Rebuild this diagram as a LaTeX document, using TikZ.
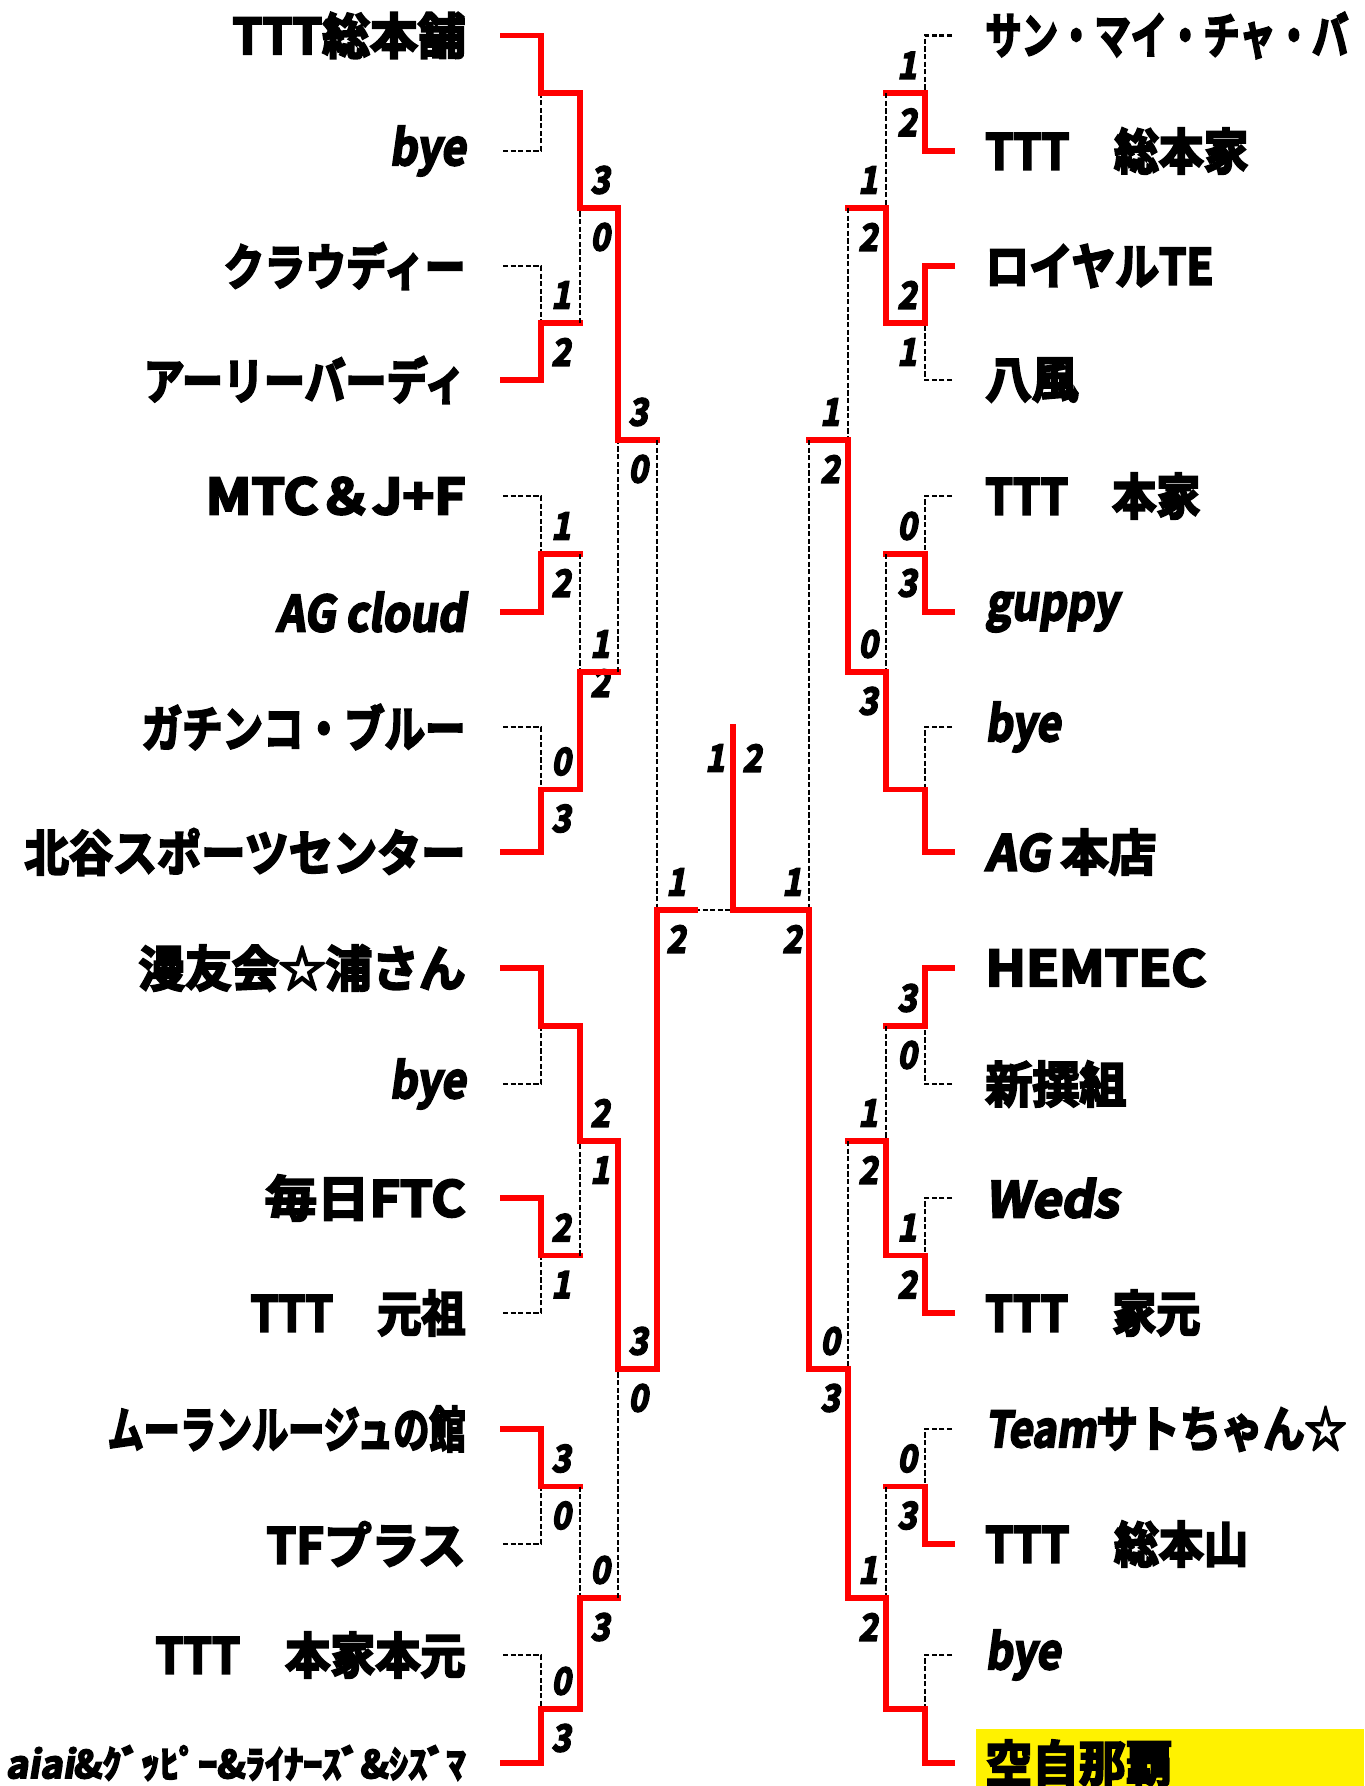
\documentclass[tikz,border=0pt]{standalone}
\usepackage{fontspec}
\usepackage{graphicx}
\newfontfamily\jpfont{Noto Sans CJK JP Bold}[FakeBold=4.5]
\newfontfamily\jpit{Noto Sans CJK JP Bold}[FakeSlant=0.16,FakeBold=4.5]
\newfontfamily\jpslfont{Noto Sans CJK JP Bold}[FakeSlant=0.2,FakeBold=5]
\newsavebox\fitbox
\newdimen\fitlen
\newcommand\fitw[2]{\sbox\fitbox{#2}\fitlen=\wd\fitbox\pgfmathsetmacro\fitf{#1*0.5/\fitlen}\scalebox{\fitf}[1]{\usebox\fitbox}}
% one match: #1 id, #2 x of entry, #3 x of vertical, #4 x out, #5 y winner, #6 y loser, #7 y mid
\newcommand\bout[7]{%
  \coordinate (#1w) at (#2,#5);
  \coordinate (#1l) at (#2,#6);
  \coordinate (#1m) at (#3,#7);
  \coordinate (#1o) at (#4,#7);
  \draw[lose] (#1l) -| (#1m);
  \draw[win] (#1w) -| (#1m) -- (#1o);
}
% scores: #1 id, #2 x, #3 y mid, #4 upper, #5 lower
\newcommand\scores[5]{%
  \node[score] (#1t) at (#2,#3-28) {\scalebox{0.88}[1]{#4}};
  \node[score] (#1b) at (#2,#3+29) {\scalebox{0.88}[1]{#5}};
}
\begin{document}
\begin{tikzpicture}[x=0.5pt,y=-0.5pt,
  win/.style={draw=red, line width=2.85pt, line join=miter, line cap=rect},
  lose/.style={draw=black, line width=1.4pt, dash pattern=on 2.6pt off 1.2pt},
  nameL/.style={anchor=east, inner sep=0pt, font=\jpfont\fontsize{24.5pt}{28pt}\selectfont},
  nameR/.style={anchor=west, inner sep=0pt, font=\jpfont\fontsize{24.5pt}{28pt}\selectfont},
  score/.style={inner sep=0pt, font=\jpslfont\fontsize{18.5pt}{20pt}\selectfont}]
\useasboundingbox (0,0) rectangle (1364,1786);
\fill[yellow] (976,1729) rectangle (1364,1786);
% ---- left names
\node[nameL] (L1) at (466,35.5) {\fitw{233}{TTT総本舗}};
\node[nameL] (L2) at (466,151) {\fitw{76}{\jpit bye}};
\node[nameL] (L3) at (466,266) {\fitw{242}{クラウディー}};
\node[nameL] (L4) at (466,380) {\fitw{322}{アーリーバーディ}};
\node[nameL] (L5) at (466,496) {\fitw{260}{MTC＆J+F}};
\node[nameL] (L6) at (466,612) {\fitw{189}{\jpit AG cloud}};
\node[nameL] (L7) at (466,727) {\fitw{324}{ガチンコ・ブルー}};
\node[nameL] (L8) at (466,852) {\fitw{441}{北谷スポーツセンター}};
\node[nameL] (L9) at (466,968) {\fitw{327}{漫友会☆浦さん}};
\node[nameL] (L10) at (466,1084) {\fitw{76}{\jpit bye}};
\node[nameL] (L11) at (466,1198) {\fitw{201}{毎日FTC}};
\node[nameL] (L12) at (466,1313) {\fitw{215}{TTT　元祖}};
\node[nameL] (L13) at (466,1429) {\fitw{358}{ムーランルージュの館}};
\node[nameL] (L14) at (466,1544) {\fitw{199}{TFプラス}};
\node[nameL] (L15) at (466,1655) {\fitw{310}{TTT　本家本元}};
\node[nameL, font=\jpfont\fontsize{19pt}{22pt}\selectfont] (L16) at (466,1763) {\fitw{460}{{\jpit aiai}\&ｸﾞｯﾋﾟｰ\&ﾗｲﾅｰｽﾞ\&ｼｽﾞﾏ}};
% ---- right names
\node[nameR] (R1) at (985,35.5) {\fitw{363}{サン・マイ・チャ・バ}};
\node[nameR] (R2) at (985,151) {\fitw{263}{TTT　総本家}};
\node[nameR] (R3) at (985,266) {\fitw{228}{ロイヤルTE}};
\node[nameR] (R4) at (985,380) {\fitw{93}{八風}};
\node[nameR] (R5) at (985,496) {\fitw{215}{TTT　本家}};
\node[nameR] (R6) at (985,612) {\fitw{133}{\jpit guppy}};
\node[nameR] (R7) at (985,727) {\fitw{75}{\jpit bye}};
\node[nameR] (R8) at (985,852) {\fitw{171}{{\jpit AG} 本店}};
\node[nameR] (R9) at (985,968) {\fitw{221}{HEMTEC}};
\node[nameR] (R10) at (985,1084) {\fitw{141}{新撰組}};
\node[nameR] (R11) at (985,1198) {\fitw{133}{\jpit Weds}};
\node[nameR] (R12) at (985,1313) {\fitw{215}{TTT　家元}};
\node[nameR] (R13) at (985,1429) {\fitw{361}{{\jpit Team}サトちゃん☆}};
\node[nameR] (R14) at (985,1544) {\fitw{263}{TTT　総本山}};
\node[nameR] (R15) at (985,1655) {\fitw{75}{\jpit bye}};
\node[nameR] (R16) at (985,1763) {\fitw{187}{空自那覇}};
% ---- scores (drawn before the lines)
\scores{sLB}{561}{323}{1}{2}
\scores{sLC}{561}{554}{1}{2}
\scores{sLD}{561}{789.5}{0}{3}
\scores{sLF}{561}{1255.5}{2}{1}
\scores{sLG}{561}{1486.5}{3}{0}
\scores{sLH}{561}{1709}{0}{3}
\scores{sLI}{600}{208}{3}{0}
\node[score] (sLJt) at (600,644) {\scalebox{0.88}[1]{1}};
\node[score] (sLJb) at (600,683) {\scalebox{0.88}[1]{2}};
\scores{sLK}{600}{1141}{2}{1}
\scores{sLL}{600}{1598}{0}{3}
\scores{sLM}{638}{440}{3}{0}
\scores{sLN}{638}{1369}{3}{0}
\scores{sLO}{676}{910}{1}{2}
\scores{sRA}{907}{93.3}{1}{2}
\scores{sRB}{907}{323}{2}{1}
\scores{sRC}{907}{554}{0}{3}
\scores{sRE}{907}{1026}{3}{0}
\scores{sRF}{907}{1255.5}{1}{2}
\scores{sRG}{907}{1486.5}{0}{3}
\scores{sRI}{868}{208}{1}{2}
\scores{sRJ}{868}{672}{0}{3}
\scores{sRK}{868}{1141}{1}{2}
\scores{sRL}{868}{1598}{1}{2}
\scores{sRM}{830}{440}{1}{2}
\scores{sRN}{830}{1369}{0}{3}
\scores{sRO}{792}{910}{1}{2}
\node[score] (fL) at (715,758) {\scalebox{0.88}[1]{1}};
\node[score] (fR) at (752,758) {\scalebox{0.88}[1]{2}};
% ---- left bracket
\bout{LA}{503}{541}{580}{35.5}{151}{93.3}
\bout{LB}{503}{541}{580}{380}{266}{323}
\bout{LC}{503}{541}{580}{612}{496}{554}
\bout{LD}{503}{541}{580}{852}{727}{789.5}
\bout{LE}{503}{541}{580}{968}{1084}{1026}
\bout{LF}{503}{541}{580}{1198}{1313}{1255.5}
\bout{LG}{503}{541}{580}{1429}{1544}{1486.5}
\bout{LH}{503}{541}{580}{1763}{1655}{1709}
\bout{LI}{580}{580}{618}{93.3}{323}{208}
\bout{LJ}{580}{580}{618}{789.5}{554}{672}
\bout{LK}{580}{580}{618}{1026}{1255.5}{1141}
\bout{LL}{580}{580}{618}{1709}{1486.5}{1598}
\bout{LM}{618}{618}{657}{208}{672}{440}
\bout{LN}{618}{618}{657}{1141}{1598}{1369}
\bout{LO}{657}{657}{695}{1369}{440}{910}
% ---- right bracket
\bout{RA}{952}{925}{886}{151}{35.5}{93.3}
\bout{RB}{952}{925}{886}{266}{380}{323}
\bout{RC}{952}{925}{886}{612}{496}{554}
\bout{RD}{952}{925}{886}{852}{727}{789.5}
\bout{RE}{952}{925}{886}{968}{1084}{1026}
\bout{RF}{952}{925}{886}{1313}{1198}{1255.5}
\bout{RG}{952}{925}{886}{1544}{1429}{1486.5}
\bout{RH}{952}{925}{886}{1763}{1655}{1709}
\bout{RI}{886}{886}{848}{323}{93.3}{208}
\bout{RJ}{886}{886}{848}{789.5}{554}{672}
\bout{RK}{886}{886}{848}{1255.5}{1026}{1141}
\bout{RL}{886}{886}{848}{1709}{1486.5}{1598}
\bout{RM}{848}{848}{809}{672}{208}{440}
\bout{RN}{848}{848}{809}{1598}{1141}{1369}
\bout{RO}{809}{809}{733}{1369}{440}{910}
% ---- final
\coordinate (top) at (733,727);
\draw[lose] (LOo) -- (ROo);
\draw[win] (ROm) -- (ROo) -- (top);
\draw[win] (LOm) -- (LOo);
\end{tikzpicture}
\end{document}
